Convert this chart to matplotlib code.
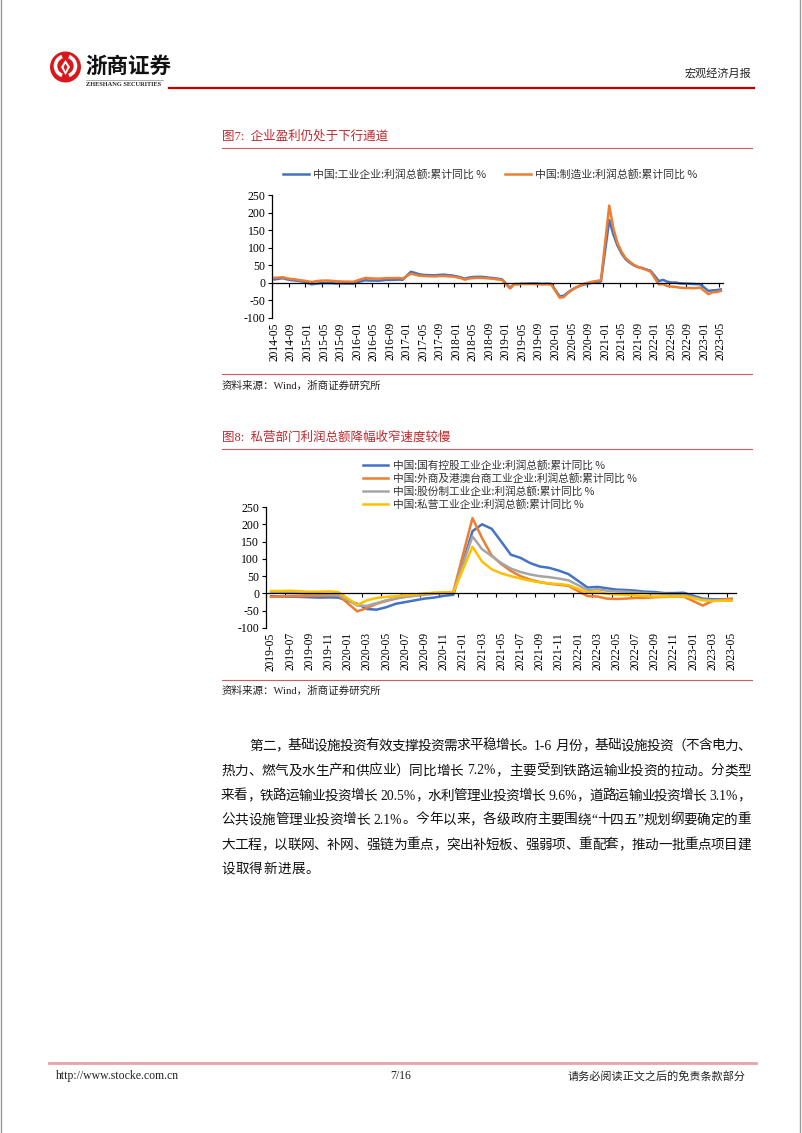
import matplotlib
matplotlib.use('Agg')
import matplotlib.pyplot as plt
import numpy as np
from matplotlib.lines import Line2D
from matplotlib.patches import Circle, Arc, Polygon

W, H = 802, 1133
fig = plt.figure(figsize=(W / 100, H / 100), dpi=100)
fig.patch.set_facecolor('white')

def fx(x):
    return x / W

def fy(y):
    return 1 - y / H

CJK = ['Noto Sans CJK SC', 'DejaVu Sans']
SER = ['Liberation Serif', 'Noto Sans CJK SC', 'DejaVu Sans']
RED = '#C0282D'

# ---------------- data ----------------
nan = np.nan
# Chart 1: monthly 2014-05 .. 2023-05 (January not published)
months1 = [f"{y}-{m:02d}" for y in range(2014, 2024) for m in range(1, 13)]
months1 = months1[months1.index('2014-05'):months1.index('2023-05') + 1]
industrial = [9.8, 11.4, 13.5, 10.0, 8.0, 6.7, 5.3, 3.3,
              nan, -4.2, -2.7, -1.3, -0.8, -0.7, -1.0, -1.9, -1.7, -2.0, -1.9, -2.3,
              nan, 4.8, 7.4, 6.5, 6.4, 6.2, 6.9, 8.4, 8.4, 8.6, 9.4, 8.5,
              nan, 31.5, 28.3, 24.4, 22.7, 22.0, 21.6, 21.6, 22.8, 23.3, 21.9, 21.0,
              nan, 16.1, 11.6, 15.0, 16.5, 17.2, 17.1, 16.2, 14.7, 13.6, 11.8, 10.3,
              nan, -14.0, -3.3, -3.4, -2.3, -2.4, -1.7, -1.7, -2.1, -2.9, -2.1, -3.3,
              nan, -38.3, -36.7, -27.4, -19.3, -12.8, -8.1, -4.4, -2.4, 0.7, 2.4, 4.1,
              nan, 178.9, 137.3, 106.0, 83.4, 66.9, 57.3, 49.5, 44.7, 42.2, 38.0, 34.3,
              nan, 5.0, 8.5, 3.5, 1.0, 1.0, -1.1, -2.1, -2.3, -3.0, -3.6, -4.0,
              nan, -22.9, -21.4, -20.6, -18.8]
manufacturing = [14.5, 15.0, 16.0, 13.0, 11.0, 10.0, 8.0, 6.5,
                 nan, 2.5, 4.5, 6.0, 6.5, 6.5, 5.5, 4.5, 4.0, 3.5, 3.5, 2.8,
                 nan, 10.5, 14.0, 13.0, 12.5, 12.0, 12.5, 13.5, 13.5, 13.5, 14.0, 12.3,
                 nan, 26.0, 23.5, 20.5, 19.5, 19.0, 18.5, 18.5, 19.5, 19.5, 18.5, 18.2,
                 nan, 14.0, 9.0, 12.0, 13.5, 14.0, 14.0, 13.5, 12.5, 11.5, 9.5, 8.7,
                 nan, -16.0, -4.5, -4.0, -3.0, -3.5, -3.0, -3.5, -4.0, -4.5, -4.0, -5.2,
                 nan, -42.0, -40.5, -29.0, -20.0, -13.0, -7.0, -2.5, 0.5, 3.5, 5.5, 7.6,
                 nan, 220.0, 155.0, 113.0, 88.0, 70.0, 60.0, 51.0, 45.0, 41.0, 37.0, 31.6,
                 nan, -4.2, -3.5, -9.0, -10.5, -11.5, -13.5, -14.5, -14.5, -15.0, -15.0, -13.4,
                 nan, -32.3, -27.0, -26.0, -23.0]
labels1 = ['中国:工业企业:利润总额:累计同比 %', '中国:制造业:利润总额:累计同比 %']

# Chart 2: monthly 2019-05 .. 2023-05
months2 = months1[months1.index('2019-05'):]
soe = [-8, -9, -9.5, -10, -11, -12, -11.5, -12,
       nan, -30, -45, -47, -40, -30, -25, -20, -15, -12, -7, -4,
       nan, 180, 200, 187, 150, 112, 103, 88, 78, 74, 66, 56,
       nan, 17, 19, 15, 11, 10, 8, 5, 4, 1, 1, 2,
       nan, -15, -17, -17, -17]
foreign = [-10, -9, -8, -8, -7, -7, -6, -5,
           nan, -52, -42, -30, -22, -15, -10, -6, -2, 1, 2, 4,
           nan, 218, 160, 110, 85, 65, 50, 40, 33, 28, 25, 22,
           nan, -8, -9, -15, -16, -15, -13, -13, -11, -10, -9, -9,
           nan, -35, -22, -18, -15]
shareholding = [2, 2, 1, 0, -1, -2, -2, -3,
                nan, -35, -36, -28, -20, -14, -10, -7, -4, -1, 1, 3,
                nan, 165, 128, 108, 88, 72, 62, 55, 50, 47, 43, 38,
                nan, 10, 12, 8, 6, 5, 3, 1, 0, -1, -3, -4,
                nan, -18, -20, -20, -20]
private = [7, 7, 8, 6, 5, 5, 6, 4,
           nan, -33, -20, -13, -10, -8, -5, -3, 0, 2, 3, 3,
           nan, 135, 92, 70, 58, 50, 43, 37, 32, 29, 27, 24,
           nan, 3, 5, -1, -3, -4, -6, -8, -9, -9, -9, -8,
           nan, -20, -22, -21, -21]
labels2 = ['中国:国有控股工业企业:利润总额:累计同比 %',
           '中国:外商及港澳台商工业企业:利润总额:累计同比 %',
           '中国:股份制工业企业:利润总额:累计同比 %',
           '中国:私营工业企业:利润总额:累计同比 %']

C_BLUE, C_ORANGE, C_GRAY, C_YELLOW = '#4472C4', '#ED7D31', '#A5A5A5', '#FFC000'
yticks = [-100, -50, 0, 50, 100, 150, 200, 250]

# ---------------- helpers ----------------
def hline(x0, x1, y, color, lw):
    fig.add_artist(Line2D([fx(x0), fx(x1)], [fy(y), fy(y)], color=color, lw=lw,
                          transform=fig.transFigure))

def draw_chart(rect_px, months, series, colors, step):
    l, t, r, b = rect_px
    ax = fig.add_axes([fx(l), fy(b), fx(r) - fx(l), fy(t) - fy(b)])
    x = np.arange(len(months))
    for vals, c in zip(series, colors):
        v = np.array(vals, dtype=float)
        m = ~np.isnan(v)
        ax.plot(x[m], v[m], color=c, lw=1.8, solid_joinstyle='round')
    ax.set_xlim(-0.5, len(months) - 0.5)
    ax.set_ylim(-100, 250)
    ax.set_yticks(yticks)
    ax.set_yticklabels([str(v) for v in yticks], family=SER, fontsize=8.5)
    for s in ['top', 'right']:
        ax.spines[s].set_visible(False)
    ax.spines['bottom'].set_position(('data', 0))
    ax.spines['left'].set_linewidth(0.9)
    ax.spines['bottom'].set_linewidth(0.9)
    ax.set_xticks(np.arange(-0.5, len(months), step))
    ax.tick_params(axis='x', labelbottom=False, direction='out', length=3, width=0.8)
    ax.tick_params(axis='y', direction='out', length=3, width=0.8, pad=2)
    tp = x[::step]
    sec = ax.secondary_xaxis(0)
    sec.set_xticks(tp)
    sec.set_xticklabels([months[i] for i in tp], rotation=90, family=SER, fontsize=8.3)
    sec.tick_params(length=0, pad=3)
    sec.spines['bottom'].set_visible(False)
    ax.set_facecolor('none')
    return ax

def tokens(s):
    out, buf = [], ''
    for ch in s:
        if ch == ' ':
            if buf:
                out.append(buf); buf = ''
            out.append(' ')
        elif ord(ch) < 128:
            buf += ch
        else:
            if buf:
                out.append(buf); buf = ''
            out.append(ch)
    if buf:
        out.append(buf)
    return out

renderer = fig.canvas.get_renderer()

def justified(s, x0, x1, y, fs, justify=True):
    toks = tokens(s)
    ws = []
    for tk in toks:
        if tk == ' ':
            ws.append(fs * 100 / 72 * 0.35)
            continue
        t = fig.text(0, 0, tk, fontsize=fs, family=SER)
        ws.append(t.get_window_extent(renderer).width)
        t.remove()
    if justify and len(toks) > 1:
        gap = (x1 - x0 - sum(ws)) / (len(toks) - 1)
    else:
        gap = 0.5
    xx = x0
    for tk, w in zip(toks, ws):
        if tk != ' ':
            fig.text(fx(xx), fy(y), tk, fontsize=fs, family=SER,
                     va='center', ha='left', color='#111111')
        xx += w + gap

# ---------------- page frame ----------------
for xv in [1, 800]:
    fig.add_artist(Line2D([fx(xv), fx(xv)], [0, 1], color='#9a9a9a', lw=1.0,
                          transform=fig.transFigure))

# ---------------- header ----------------
tr = fig.dpi_scale_trans
cx, cy = 0.655, (H - 67) / 100
fig.add_artist(Circle((cx, cy), 0.155, transform=tr, facecolor='#D7191E', edgecolor='none'))
fig.add_artist(Arc((cx, cy + 0.01), 0.2, 0.2, theta1=110, theta2=250, transform=tr,
                   color='white', lw=2.6))
fig.add_artist(Arc((cx, cy + 0.01), 0.2, 0.2, theta1=290, theta2=70, transform=tr,
                   color='white', lw=2.6))
fig.add_artist(Polygon([[cx, cy + 0.07], [cx + 0.045, cy], [cx, cy - 0.08], [cx - 0.045, cy]],
                       closed=True, transform=tr, facecolor='white', edgecolor='none'))
fig.add_artist(Polygon([[cx, cy + 0.035], [cx + 0.02, cy], [cx, cy - 0.045], [cx - 0.02, cy]],
                       closed=True, transform=tr, facecolor='#D7191E', edgecolor='none'))
fig.text(fx(85), fy(66), '浙商证券', fontsize=15.5, fontweight='bold', family=CJK,
         va='center', ha='left', color='#111111')
hline(86, 163, 79.5, '#888888', 0.5)
fig.text(fx(86), fy(84.5), 'ZHESHANG SECURITIES', fontsize=4.6, fontweight='bold',
         family=SER, va='center', ha='left', color='#222222')
hline(169, 754, 87.5, '#C00000', 1.6)
fig.text(fx(751), fy(73), '宏观经济月报', fontsize=8, family=CJK,
         va='center', ha='right', color='#222222')

# ---------------- chart 1 ----------------
fig.text(fx(222), fy(136), '图7:  企业盈利仍处于下行通道', fontsize=9, family=SER,
         va='center', ha='left', color=RED)
hline(222, 752, 148, '#D05A60', 0.8)
leg1 = [(283, 174, C_BLUE), (505, 174, C_ORANGE)]
for (lx, ly, c), lab in zip(leg1, labels1):
    hline(lx, lx + 26, ly, c, 1.8)
    fig.text(fx(lx + 30), fy(ly), lab, fontsize=7.8, family=CJK,
             va='center', ha='left', color='#333333')
draw_chart((272.4, 195, 722.9, 318), months1, [industrial, manufacturing],
           [C_BLUE, C_ORANGE], 4)
hline(222, 752, 374, '#D05A60', 0.8)
fig.text(fx(222), fy(386), '资料来源：Wind，浙商证券研究所', fontsize=7.6, family=SER,
         va='center', ha='left', color='#222222')

# ---------------- chart 2 ----------------
fig.text(fx(222), fy(437), '图8:  私营部门利润总额降幅收窄速度较慢', fontsize=9, family=SER,
         va='center', ha='left', color=RED)
hline(222, 752, 449, '#D05A60', 0.8)
leg_y = [465, 478, 491, 504]
for ly, c, lab in zip(leg_y, [C_BLUE, C_ORANGE, C_GRAY, C_YELLOW], labels2):
    hline(363, 388, ly, c, 1.8)
    fig.text(fx(393), fy(ly), lab, fontsize=7.7, family=CJK,
             va='center', ha='left', color='#333333')
draw_chart((266.2, 507, 736.3, 628), months2, [soe, foreign, shareholding, private],
           [C_BLUE, C_ORANGE, C_GRAY, C_YELLOW], 2)
hline(222, 752, 680, '#D05A60', 0.8)
fig.text(fx(222), fy(691), '资料来源：Wind，浙商证券研究所', fontsize=7.6, family=SER,
         va='center', ha='left', color='#222222')

# ---------------- paragraph ----------------
para = [
    ("第二，基础设施投资有效支撑投资需求平稳增长。1-6 月份，基础设施投资（不含电力、", 249, 746, True),
    ("热力、燃气及水生产和供应业）同比增长 7.2%，主要受到铁路运输业投资的拉动。分类型", 221, 771, True),
    ("来看，铁路运输业投资增长 20.5%，水利管理业投资增长 9.6%，道路运输业投资增长 3.1%，", 221, 796, True),
    ("公共设施管理业投资增长 2.1%。今年以来，各级政府主要围绕“十四五”规划纲要确定的重", 221, 820, True),
    ("大工程，以联网、补网、强链为重点，突出补短板、强弱项、重配套，推动一批重点项目建", 221, 845, True),
    ("设取得新进展。", 221, 869, False),
]
for s, x0, y, j in para:
    justified(s, x0, 751, y, 9.8, j)

# ---------------- footer ----------------
hline(49, 756, 1063, '#E8A3AA', 2.0)
fig.text(fx(56), fy(1076), 'http://www.stocke.com.cn', fontsize=8.5, family=SER,
         va='center', ha='left', color='#222222')
fig.text(fx(401), fy(1076), '7/16', fontsize=8.5, family=SER, va='center', ha='center',
         color='#222222')
fig.text(fx(746), fy(1076), '请务必阅读正文之后的免责条款部分', fontsize=8, family=CJK,
         va='center', ha='right', color='#222222')

fig.savefig('out.png', dpi=100, facecolor='white')
